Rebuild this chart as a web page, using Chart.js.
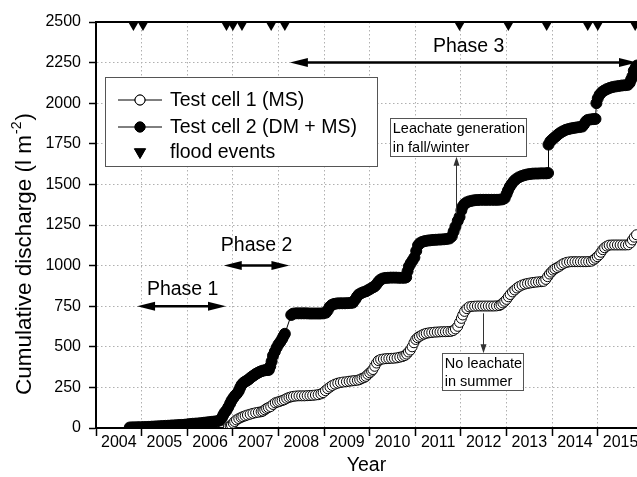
<!DOCTYPE html>
<html>
<head>
<meta charset="utf-8">
<script src="https://cdn.jsdelivr.net/npm/chart.js@4.4.0/dist/chart.umd.min.js"></script>
<style>
html, body { margin: 0; padding: 0; background: #fff; }
#wrap { width: 637px; height: 477px; }
</style>
</head>
<body>
<div id="wrap"><canvas id="chart" width="637" height="477"></canvas></div>
<script>
// Test cell 1 (MS) - open circles
const cell1Years = [
  2006.90, 2006.94, 2006.97, 2007.01, 2007.04, 2007.08, 2007.13, 2007.18, 2007.22, 2007.27, 2007.32, 2007.38, 2007.44, 2007.50, 2007.56, 2007.62,
  2007.66, 2007.70, 2007.74, 2007.78, 2007.83, 2007.88, 2007.93, 2007.98, 2008.03, 2008.08, 2008.13, 2008.18, 2008.23, 2008.28, 2008.33, 2008.39,
  2008.45, 2008.51, 2008.57, 2008.63, 2008.69, 2008.75, 2008.81, 2008.87, 2008.93, 2008.98, 2009.03, 2009.08, 2009.13, 2009.18, 2009.24, 2009.30,
  2009.36, 2009.42, 2009.49, 2009.55, 2009.61, 2009.67, 2009.73, 2009.78, 2009.83, 2009.88, 2009.92, 2009.96, 2010.00, 2010.04, 2010.07, 2010.11,
  2010.15, 2010.19, 2010.24, 2010.30, 2010.36, 2010.42, 2010.48, 2010.54, 2010.60, 2010.66, 2010.72, 2010.77, 2010.81, 2010.85, 2010.89, 2010.93,
  2010.97, 2011.01, 2011.05, 2011.09, 2011.14, 2011.19, 2011.24, 2011.30, 2011.36, 2011.42, 2011.48, 2011.54, 2011.60, 2011.66, 2011.72, 2011.78,
  2011.83, 2011.88, 2011.93, 2011.97, 2012.01, 2012.04, 2012.08, 2012.13, 2012.18, 2012.24, 2012.30, 2012.36, 2012.42, 2012.48, 2012.54, 2012.60,
  2012.66, 2012.72, 2012.78, 2012.84, 2012.88, 2012.92, 2012.96, 2013.00, 2013.04, 2013.08, 2013.13, 2013.18, 2013.23, 2013.28, 2013.34, 2013.40,
  2013.46, 2013.52, 2013.58, 2013.64, 2013.70, 2013.76, 2013.81, 2013.86, 2013.90, 2013.94, 2013.98, 2014.02, 2014.06, 2014.11, 2014.16, 2014.21,
  2014.26, 2014.32, 2014.38, 2014.44, 2014.50, 2014.56, 2014.62, 2014.68, 2014.74, 2014.80, 2014.86, 2014.91, 2014.95, 2014.99, 2015.03, 2015.07,
  2015.11, 2015.15, 2015.20, 2015.25, 2015.31, 2015.37, 2015.43, 2015.49, 2015.55, 2015.61, 2015.67, 2015.72, 2015.76, 2015.80, 2015.85
];
const cell1Values = [
  6, 12, 18, 30, 40, 50, 58, 65, 70, 75, 80, 85, 90, 94, 97, 100,
  104, 112, 120, 126, 132, 145, 155, 160, 164, 169, 174, 182, 188, 192, 195, 197,
  198, 198, 198, 199, 200, 201, 203, 205, 210, 218, 230, 242, 252, 262, 270, 276,
  280, 283, 285, 288, 290, 292, 294, 298, 305, 311, 318, 330, 340, 350, 360, 380,
  400, 415, 422, 425, 427, 428, 429, 430, 432, 436, 440, 446, 455, 468, 480, 500,
  525, 545, 556, 564, 572, 578, 583, 586, 588, 590, 591, 592, 593, 593, 594, 595,
  600, 610, 626, 650, 675, 696, 718, 735, 746, 749, 750, 751, 751, 751, 751, 751,
  751, 751, 752, 754, 760, 770, 780, 792, 808, 822, 838, 850, 862, 872, 880, 886,
  890, 893, 896, 898, 900, 901, 903, 915, 932, 948, 960, 972, 980, 988, 996, 1006,
  1014, 1020, 1023, 1024, 1024, 1024, 1024, 1024, 1024, 1025, 1027, 1035, 1045, 1055, 1066, 1082,
  1098, 1110, 1120, 1126, 1127, 1127, 1127, 1127, 1127, 1127, 1128, 1140, 1158, 1175, 1190
];

// Test cell 2 (DM + MS) - filled circles
const cell2Years = [
  2004.74, 2004.80, 2004.86, 2004.92, 2004.98, 2005.04, 2005.10, 2005.16, 2005.22, 2005.28, 2005.34, 2005.40, 2005.46, 2005.52, 2005.58, 2005.64,
  2005.70, 2005.76, 2005.82, 2005.88, 2005.94, 2006.00, 2006.06, 2006.12, 2006.18, 2006.24, 2006.30, 2006.36, 2006.42, 2006.48, 2006.54, 2006.60,
  2006.66, 2006.71, 2006.76, 2006.79, 2006.82, 2006.86, 2006.90, 2006.94, 2006.97, 2007.01, 2007.05, 2007.09, 2007.13, 2007.16, 2007.19, 2007.23,
  2007.27, 2007.31, 2007.35, 2007.39, 2007.43, 2007.47, 2007.51, 2007.55, 2007.59, 2007.63, 2007.67, 2007.71, 2007.75, 2007.79, 2007.82, 2007.85,
  2007.88, 2007.92, 2007.96, 2008.00, 2008.04, 2008.08, 2008.11, 2008.14, 2008.28, 2008.32, 2008.38, 2008.44, 2008.50, 2008.56, 2008.62, 2008.68,
  2008.74, 2008.80, 2008.86, 2008.92, 2008.98, 2009.04, 2009.08, 2009.12, 2009.17, 2009.22, 2009.28, 2009.34, 2009.40, 2009.46, 2009.52, 2009.58,
  2009.63, 2009.68, 2009.72, 2009.76, 2009.81, 2009.86, 2009.92, 2009.97, 2010.02, 2010.07, 2010.11, 2010.15, 2010.19, 2010.23, 2010.28, 2010.34,
  2010.40, 2010.46, 2010.52, 2010.58, 2010.64, 2010.70, 2010.76, 2010.80, 2010.83, 2010.86, 2010.90, 2010.94, 2010.98, 2011.02, 2011.06, 2011.10,
  2011.15, 2011.21, 2011.27, 2011.33, 2011.39, 2011.45, 2011.51, 2011.57, 2011.63, 2011.69, 2011.75, 2011.80, 2011.84, 2011.88, 2011.93, 2011.97,
  2012.01, 2012.04, 2012.08, 2012.13, 2012.19, 2012.25, 2012.31, 2012.37, 2012.43, 2012.49, 2012.55, 2012.61, 2012.67, 2012.73, 2012.79, 2012.85,
  2012.91, 2012.96, 2013.00, 2013.03, 2013.07, 2013.11, 2013.16, 2013.21, 2013.27, 2013.33, 2013.39, 2013.45, 2013.51, 2013.57, 2013.63, 2013.69,
  2013.75, 2013.81, 2013.87, 2013.91, 2013.92, 2013.96, 2014.00, 2014.04, 2014.09, 2014.14, 2014.19, 2014.24, 2014.30, 2014.36, 2014.42, 2014.48,
  2014.54, 2014.60, 2014.66, 2014.70, 2014.74, 2014.78, 2014.84, 2014.90, 2014.95, 2014.97, 2015.00, 2015.04, 2015.09, 2015.14, 2015.20, 2015.26,
  2015.32, 2015.39, 2015.46, 2015.53, 2015.60, 2015.66, 2015.70, 2015.73, 2015.76, 2015.79, 2015.83, 2015.86
];
const cell2Values = [
  3, 4, 4, 5, 5, 6, 6, 7, 8, 9, 10, 11, 12, 13, 14, 15,
  16, 17, 18, 19, 20, 22, 24, 26, 27, 28, 30, 32, 34, 36, 38, 40,
  42, 46, 62, 80, 95, 108, 128, 150, 168, 185, 200, 212, 228, 248, 265, 278,
  286, 292, 300, 310, 318, 326, 334, 340, 346, 350, 354, 356, 357, 358, 380, 410,
  445, 470, 495, 515, 530, 548, 565, 580, 696, 704, 706, 706, 706, 706, 706, 705,
  705, 705, 705, 705, 706, 710, 725, 745, 758, 764, 767, 768, 768, 768, 769, 770,
  772, 790, 808, 822, 830, 836, 842, 850, 858, 866, 872, 885, 900, 912, 920, 924,
  925, 926, 926, 926, 925, 925, 925, 928, 965, 995, 1015, 1032, 1050, 1090, 1125, 1138,
  1146, 1151, 1154, 1156, 1158, 1159, 1160, 1161, 1162, 1164, 1167, 1180, 1210, 1240, 1275, 1300,
  1340, 1365, 1380, 1390, 1396, 1400, 1403, 1404, 1405, 1405, 1405, 1405, 1405, 1405, 1405, 1406,
  1408, 1415, 1440, 1462, 1485, 1502, 1520, 1533, 1544, 1551, 1557, 1561, 1564, 1566, 1567, 1567,
  1568, 1568, 1568, 1570, 1745, 1765, 1776, 1786, 1798, 1810, 1820, 1828, 1836, 1841, 1845, 1848,
  1851, 1853, 1856, 1870, 1888, 1897, 1900, 1902, 1903, 2000, 2030, 2052, 2068, 2078, 2087, 2094,
  2099, 2103, 2106, 2109, 2111, 2113, 2125, 2145, 2165, 2200, 2220, 2232
];

// flood events (triangles along the top)
const floodYears = [2004.82, 2005.03, 2006.86, 2007.0, 2007.2, 2007.84, 2008.14, 2011.97, 2013.04, 2013.88, 2014.78, 2015.0, 2015.82];
const floodLevel = 2482;

const yearTicks = [2004, 2005, 2006, 2007, 2008, 2009, 2010, 2011, 2012, 2013, 2014, 2015];

// phase arrows
const phaseNames = ['Phase 1', 'Phase 2', 'Phase 3'];
const phaseFrom = [2004.9, 2006.8, 2008.25];
const phaseTo = [2006.85, 2008.24, 2015.86];
const phaseLevel = [750, 1000, 2250];
const phaseTextX = [2005.9, 2007.52, 2012.17];
const phaseTextY = [850, 1121, 2348];

// note boxes
const noteLines = [['Leachate generation', 'in fall/winter'], ['No leachate', 'in summer']];
const noteLeft = [2010.44, 2011.58];
const noteRight = [2013.43, 2013.35];
const noteTop = [1907, 460];
const noteBottom = [1671, 230];
const noteArrowX = [2011.89, 2012.49];
const noteArrowFrom = [1320, 706];
const noteArrowTo = [1671, 460];

const FONT = 'Arial, "Liberation Sans", sans-serif';

function pairs(xs, ys) {
    return xs.map((x, i) => ({ x: x, y: ys[i] }));
}

function arrowHead(ctx, x, y, angle, len, half) {
    ctx.save();
    ctx.translate(x, y);
    ctx.rotate(angle);
    ctx.beginPath();
    ctx.moveTo(0, 0);
    ctx.lineTo(-len, -half);
    ctx.lineTo(-len, half);
    ctx.closePath();
    ctx.fill();
    ctx.restore();
}

// extra drawing: frame, phases, notes, legend, y title
const extras = {
    id: 'extras',
    afterDraw(chart) {
        const ctx = chart.ctx;
        const xs = chart.scales.x;
        const ys = chart.scales.y;
        const area = chart.chartArea;

        ctx.save();
        // top frame line
        ctx.strokeStyle = '#000';
        ctx.lineWidth = 2;
        ctx.beginPath();
        ctx.moveTo(area.left - 1, area.top);
        ctx.lineTo(area.right, area.top);
        ctx.stroke();

        // phase arrows
        ctx.fillStyle = '#000';
        ctx.font = '19.5px ' + FONT;
        ctx.textAlign = 'center';
        ctx.textBaseline = 'middle';
        phaseNames.forEach((name, i) => {
            const x1 = xs.getPixelForValue(phaseFrom[i]);
            const x2 = xs.getPixelForValue(phaseTo[i]);
            const y = ys.getPixelForValue(phaseLevel[i]);
            ctx.lineWidth = 2.5;
            ctx.beginPath();
            ctx.moveTo(x1 + 10, y);
            ctx.lineTo(x2 - 10, y);
            ctx.stroke();
            arrowHead(ctx, x1, y, Math.PI, 18, 4.5);
            arrowHead(ctx, x2, y, 0, 18, 4.5);
            ctx.fillText(name, xs.getPixelForValue(phaseTextX[i]), ys.getPixelForValue(phaseTextY[i]));
        });

        // notes
        ctx.font = '14.5px ' + FONT;
        ctx.textAlign = 'left';
        noteLines.forEach((lines, i) => {
            const l = xs.getPixelForValue(noteLeft[i]);
            const r = xs.getPixelForValue(noteRight[i]);
            const t = ys.getPixelForValue(noteTop[i]);
            const b = ys.getPixelForValue(noteBottom[i]);
            ctx.fillStyle = '#fff';
            ctx.fillRect(l, t, r - l, b - t);
            ctx.strokeStyle = '#555';
            ctx.lineWidth = 1;
            ctx.strokeRect(Math.round(l) + 0.5, Math.round(t) + 0.5, Math.round(r - l), Math.round(b - t));
            ctx.fillStyle = '#000';
            const lh = (b - t) / 2;
            lines.forEach((txt, k) => ctx.fillText(txt, l + 3, t + lh * (k + 0.5) + 1));

            const ax = Math.round(xs.getPixelForValue(noteArrowX[i])) + 0.5;
            const ay1 = ys.getPixelForValue(noteArrowFrom[i]);
            const ay2 = ys.getPixelForValue(noteArrowTo[i]);
            ctx.strokeStyle = '#333';
            ctx.fillStyle = '#333';
            ctx.lineWidth = 1;
            ctx.beginPath();
            ctx.moveTo(ax, ay1);
            ctx.lineTo(ax, ay2 + (ay2 < ay1 ? 6 : -6));
            ctx.stroke();
            arrowHead(ctx, ax, ay2, ay2 < ay1 ? -Math.PI / 2 : Math.PI / 2, 9, 3);
        });

        // legend
        const lx = area.left + 9, ly = area.top + 55, lw = 272, lh = 89;
        ctx.fillStyle = '#fff';
        ctx.fillRect(lx, ly, lw, lh);
        ctx.strokeStyle = '#555';
        ctx.lineWidth = 1;
        ctx.strokeRect(lx + 0.5, ly + 0.5, lw, lh);
        ctx.font = '19.5px ' + FONT;
        ctx.textBaseline = 'middle';
        const rows = [23, 50, 75];
        chart.data.datasets.forEach((ds, i) => {
            const cy = ly + rows[i];
            const cx = lx + 35;
            if (ds.showLine !== false) {
                ctx.strokeStyle = ds.borderColor;
                ctx.lineWidth = 1;
                ctx.beginPath();
                ctx.moveTo(lx + 13, cy);
                ctx.lineTo(lx + 57, cy);
                ctx.stroke();
            }
            Chart.helpers.drawPoint(ctx, {
                pointStyle: ds.pointStyle,
                rotation: ds.rotation || 0,
                radius: ds.pointStyle === 'triangle' ? 6.5 : 5,
                borderWidth: ds.pointBorderWidth
            }, cx, cy);
            ctx.fillStyle = ds.pointBackgroundColor;
            ctx.strokeStyle = ds.pointBorderColor;
            ctx.lineWidth = ds.pointBorderWidth;
            ctx.fill();
            ctx.stroke();
            ctx.fillStyle = '#000';
            ctx.textAlign = 'left';
            ctx.fillText(ds.label, lx + 65, cy + 1);
        });

        // y axis title with superscript, centred near y = 254
        ctx.font = '22.5px ' + FONT;
        const main = 'Cumulative discharge (l m';
        const w1 = ctx.measureText(main).width;
        const w2 = ctx.measureText(')').width;
        ctx.font = '14px ' + FONT;
        const ws = ctx.measureText('-2').width;
        const total = w1 + ws + 2 + w2;
        ctx.translate(25, 254 + total / 2);
        ctx.rotate(-Math.PI / 2);
        ctx.fillStyle = '#000';
        ctx.textAlign = 'left';
        ctx.textBaseline = 'middle';
        ctx.font = '22.5px ' + FONT;
        ctx.fillText(main, 0, 0);
        ctx.font = '14px ' + FONT;
        ctx.fillText('-2', w1 + 1, -8);
        ctx.font = '22.5px ' + FONT;
        ctx.fillText(')', w1 + ws + 2, 0);
        ctx.restore();
    }
};

const ctx = document.getElementById('chart').getContext('2d');
new Chart(ctx, {
    type: 'scatter',
    data: {
        datasets: [{
            label: 'Test cell 1 (MS)',
            data: pairs(cell1Years, cell1Values),
            showLine: true,
            borderColor: '#000',
            borderWidth: 1,
            pointStyle: 'circle',
            pointRadius: 5,
            pointBackgroundColor: '#fff',
            pointBorderColor: '#000',
            pointBorderWidth: 1
        }, {
            label: 'Test cell 2 (DM + MS)',
            data: pairs(cell2Years, cell2Values),
            showLine: true,
            borderColor: '#000',
            borderWidth: 1,
            pointStyle: 'circle',
            pointRadius: 5.5,
            pointBackgroundColor: '#000',
            pointBorderColor: '#000',
            pointBorderWidth: 1
        }, {
            label: 'flood events',
            data: floodYears.map(x => ({ x: x, y: floodLevel })),
            showLine: false,
            pointStyle: 'triangle',
            rotation: 180,
            pointRadius: 6,
            pointBackgroundColor: '#000',
            pointBorderColor: '#000',
            pointBorderWidth: 0,
            clip: false
        }]
    },
    options: {
        responsive: false,
        animation: false,
        events: [],
        layout: { autoPadding: false, padding: { top: 22, right: 0, left: 0, bottom: 0 } },
        plugins: {
            legend: { display: false },
            tooltip: { enabled: false }
        },
        scales: {
            x: {
                type: 'linear',
                min: 2004,
                max: 2015.86,
                afterBuildTicks: (scale) => { scale.ticks = yearTicks.map(v => ({ value: v })); },
                afterFit: (scale) => { scale.height = 49; },
                border: { display: true, color: '#000', width: 2, dash: [1.5, 2.5] },
                grid: { color: '#b0b0b0', lineWidth: 1, tickColor: '#000', tickLength: 8, tickWidth: 1.5 },
                ticks: {
                    autoSkip: false,
                    maxRotation: 0,
                    labelOffset: 22.8,
                    padding: -3,
                    color: '#000',
                    font: { family: FONT, size: 16 },
                    callback: (v) => String(v)
                },
                title: {
                    display: true,
                    text: 'Year',
                    color: '#000',
                    font: { family: FONT, size: 19.5 },
                    padding: { top: 0, bottom: 0 }
                }
            },
            y: {
                min: 0,
                max: 2500,
                afterFit: (scale) => { scale.width = 96; },
                border: { display: true, color: '#000', width: 2, dash: [1.5, 2.5] },
                grid: {
                    color: (c) => (c.tick && c.tick.value % 250 === 0) ? '#b0b0b0' : 'rgba(0,0,0,0)',
                    lineWidth: 1,
                    tickColor: '#000',
                    tickLength: 7,
                    tickWidth: 1.5
                },
                ticks: {
                    stepSize: 125,
                    padding: 8,
                    color: '#000',
                    font: { family: FONT, size: 16 },
                    callback: (v) => (v % 250 === 0 ? String(v) : '')
                }
            }
        }
    },
    plugins: [extras]
});
</script>
</body>
</html>
